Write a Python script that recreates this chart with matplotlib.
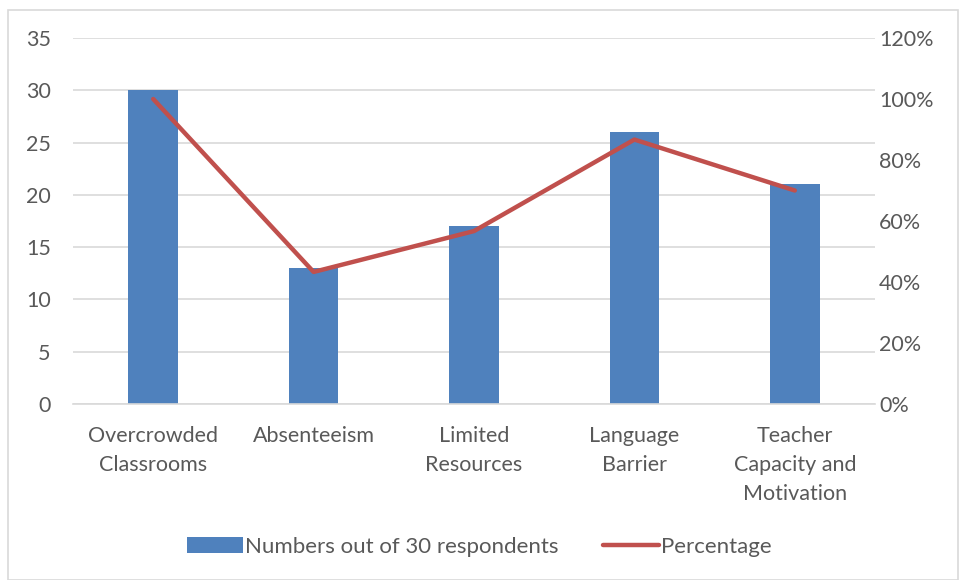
import matplotlib.pyplot as plt
import matplotlib.ticker as mticker
from matplotlib.patches import Rectangle

# ── Data ─────────────────────────────────────────────────────────────────────
categories = ["Overcrowded\nClassrooms", "Absenteeism", "Limited\nResources",
              "Language\nBarrier", "Teacher\nCapacity and\nMotivation"]
counts = [30, 13, 17, 26, 21]
percentages = [1.00, 0.433, 0.567, 0.867, 0.70]

BAR_BLUE = "#4F81BD"
LINE_RED = "#C0504D"
GRID = "#D9D9D9"
TEXT = "#595959"
FS = 15.5

plt.rcParams["font.family"] = ["Lato", "DejaVu Sans"]

fig = plt.figure(figsize=(9.59, 5.8), dpi=100)
ax = fig.add_axes([73 / 959, 1 - 404 / 580, 802 / 959, 366 / 580])

x = range(len(categories))
ax.bar(x, counts, width=0.31, color=BAR_BLUE, label="Numbers out of 30 respondents", zorder=2)
ax.set_xlim(-0.5, len(categories) - 0.5)
ax.set_ylim(0, 35)
ax.set_yticks(range(0, 36, 5))
ax.set_xticks(list(x))
ax.set_xticklabels(categories, fontsize=FS, color=TEXT, linespacing=1.55)
ax.tick_params(axis="y", labelsize=FS, colors=TEXT, length=0, pad=16)
ax.tick_params(axis="x", length=0, pad=16)
ax.yaxis.grid(True, color=GRID, linewidth=1.2)
ax.set_axisbelow(True)
for s in ["top", "right", "left"]:
    ax.spines[s].set_visible(False)
ax.spines["bottom"].set_color(GRID)
ax.spines["bottom"].set_linewidth(1.2)

ax2 = ax.twinx()
ax2.plot(list(x), percentages, color=LINE_RED, linewidth=3.2, solid_capstyle="round",
         label="Percentage", zorder=3)
ax2.set_ylim(0, 1.2)
ax2.set_yticks([i / 10 for i in range(0, 13, 2)])
ax2.yaxis.set_major_formatter(mticker.FuncFormatter(lambda v, _: f"{v * 100:.0f}%"))
ax2.tick_params(axis="y", labelsize=FS, colors=TEXT, length=0, pad=3)
for s in ["top", "right", "left", "bottom"]:
    ax2.spines[s].set_visible(False)

h1, l1 = ax.get_legend_handles_labels()
h2, l2 = ax2.get_legend_handles_labels()
fig.legend(h1 + h2, l1 + l2, loc="center", bbox_to_anchor=(0.5, 1 - 547 / 580),
           ncol=2, frameon=False, fontsize=16, labelcolor=TEXT,
           handlelength=2.5, handletextpad=0.1, columnspacing=2.0)

fig.patches.append(Rectangle((8 / 959, 0), 950 / 959, 1 - 10 / 580, transform=fig.transFigure,
                             fill=False, edgecolor=GRID, linewidth=1.2))

fig.savefig("out.png", dpi=100, facecolor="white")
